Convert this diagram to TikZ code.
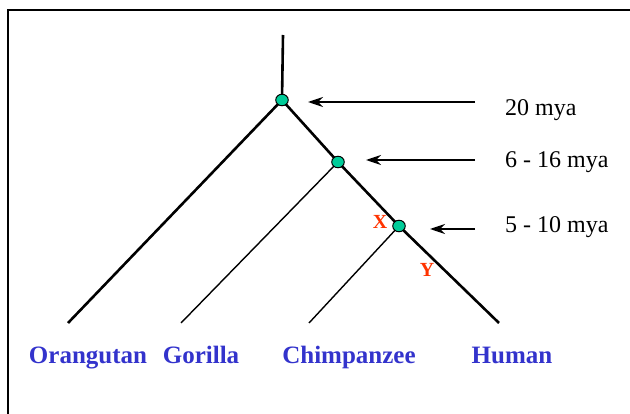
\documentclass[tikz,border=0pt]{standalone}
\usepackage{fontspec}
\setmainfont{Liberation Serif}
\usetikzlibrary{arrows.meta,shapes.geometric}
\definecolor{leafblue}{RGB}{51,51,204}
\definecolor{markred}{RGB}{255,51,0}
\definecolor{dotgreen}{RGB}{0,204,153}
\begin{document}
\begin{tikzpicture}[x=1pt,y=-1pt,
  branch/.style={line width=2.6pt},
  twig/.style={line width=1.4pt},
  split/.style={ellipse,draw=black,line width=1pt,fill=dotgreen,minimum width=12.5pt,minimum height=11.5pt,inner sep=0pt},
  pointer/.style={line width=1.6pt,-{Stealth[length=15pt,width=10pt]}},
  age/.style={anchor=base west,inner sep=0pt,font=\fontsize{24}{28}\selectfont},
  species/.style={anchor=base,inner sep=0pt,text=leafblue,font=\fontsize{25}{30}\selectfont\bfseries},
  redmark/.style={text=markred,font=\fontsize{20}{24}\selectfont\bfseries}]
  \useasboundingbox (0,0) rectangle (630,414);
  \draw[line width=2pt] (8,414) -- (8,10) -- (630,10);
  % splits and leaf ends
  \coordinate (top) at (283,35);
  \coordinate (n20) at (282,100);
  \coordinate (n6) at (338,162);
  \coordinate (n5) at (399,226);
  \coordinate (orang) at (68,323);
  \coordinate (gor) at (181,323);
  \coordinate (chimp) at (309,323);
  \coordinate (hum) at (499,323);
  \draw[branch] (top) -- (n20);
  \draw[branch] (n20) -- (orang);
  \draw[branch] (n20) -- (n6) -- (n5) -- (hum);
  \draw[twig] (n6) -- (gor);
  \draw[twig] (n5) -- (chimp);
  \node[split] (s20) at (n20) {};
  \node[split] (s6) at (n6) {};
  \node[split] (s5) at (n5) {};
  % ages
  \node[age] (a20) at (505,116) {20 mya};
  \node[age] (a6) at (505,168) {6 - 16 mya};
  \node[age] (a5) at (505,233) {5 - 10 mya};
  \coordinate (p20) at (475,102);
  \coordinate (p6) at (475,160);
  \coordinate (p5) at (475,229);
  \draw[pointer] (p20) -- (308,102);
  \draw[pointer] (p6) -- (366,160);
  \draw[pointer] (p5) -- (430,229);
  % labels
  \node[redmark] (x) at (380,222) {X};
  \node[redmark] (y) at (427,270) {Y};
  \node[species] (l1) at (88,363) {Orangutan};
  \node[species] (l2) at (201,363) {Gorilla};
  \node[species] (l3) at (349,363) {Chimpanzee};
  \node[species] (l4) at (512,363) {Human};
\end{tikzpicture}
\end{document}
